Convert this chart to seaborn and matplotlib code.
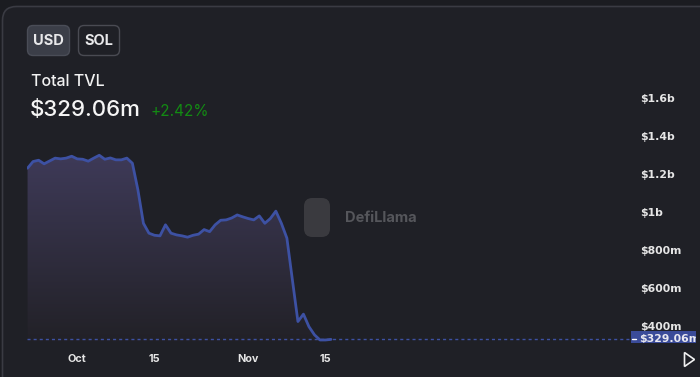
import numpy as np
import pandas as pd
import matplotlib
matplotlib.use("Agg")
import matplotlib.pyplot as plt
import matplotlib.dates as mdates
from matplotlib.patches import FancyBboxPatch, Rectangle, Polygon
import seaborn as sns

# ---- data (TVL in millions USD, daily) ----
start_date = "2023-09-22"
tvl_values = [1230, 1265, 1272, 1253, 1268, 1283, 1279, 1283, 1293, 1279,
              1277, 1267, 1283, 1298, 1277, 1284, 1274, 1274, 1283, 1256,
              1116, 940, 888, 877, 874, 932, 888, 879, 874, 867,
              877, 883, 907, 896, 932, 956, 958, 968, 984, 974,
              965, 958, 979, 940, 965, 1004, 940, 862, 642, 423,
              462, 396, 353, 326, 326, 329.06]
dates = pd.date_range(start_date, periods=len(tvl_values), freq="D")
df = pd.DataFrame({"date": dates, "tvl": tvl_values})

ytick_values = [400, 600, 800, 1000, 1200, 1400, 1600]
ytick_labels = ["$400m", "$600m", "$800m", "$1b", "$1.2b", "$1.4b", "$1.6b"]
xtick_dates = ["2023-10-01", "2023-10-15", "2023-11-01", "2023-11-15"]
xtick_labels = ["Oct", "15", "Nov", "15"]
current_label = "$329.06m"
change_label = "+2.42%"

W, H = 700, 377
OUT_BG = "#1b1c21"
CARD_BG = "#1f2026"
LINE = "#3d51a3"

sns.set_theme(style="dark")
plt.rcParams["font.family"] = ["Inter", "DejaVu Sans"]

fig = plt.figure(figsize=(W / 100, H / 100), dpi=100)
fig.patch.set_facecolor(OUT_BG)

def fx(x):
    return x / W

def fy(y):
    return 1 - y / H

# card
card = FancyBboxPatch((fx(2.5), fy(400)), fx(720), fy(6.5) - fy(400),
                      boxstyle="round,pad=0,rounding_size=0.02",
                      transform=fig.transFigure, facecolor=CARD_BG,
                      edgecolor="#3a3b43", linewidth=1.2, mutation_aspect=W / H,
                      zorder=-10)
fig.patches.append(card)

# buttons
usd = FancyBboxPatch((fx(27.5), fy(55.5)), fx(42), fy(25.5) - fy(55.5),
                     boxstyle="round,pad=0,rounding_size=0.008",
                     transform=fig.transFigure, facecolor="#3b3e48",
                     edgecolor="#4a4d57", linewidth=1, mutation_aspect=W / H)
sol = FancyBboxPatch((fx(78.5), fy(55.5)), fx(41), fy(25.5) - fy(55.5),
                     boxstyle="round,pad=0,rounding_size=0.008",
                     transform=fig.transFigure, facecolor=CARD_BG,
                     edgecolor="#4a4b53", linewidth=1, mutation_aspect=W / H)
fig.patches.extend([usd, sol])
fig.text(fx(48.5), fy(41), "USD", color="#e8e8ea", fontsize=10.5, fontweight="bold",
         ha="center", va="center")
fig.text(fx(99), fy(41), "SOL", color="#e8e8ea", fontsize=10.5, fontweight="bold",
         ha="center", va="center")

fig.text(fx(31), fy(82), "Total TVL", color="#f2f2f2", fontsize=11.5,
         fontweight="medium", ha="left", va="center")
fig.text(fx(30), fy(110), current_label, color="#f5f5f5", fontsize=16,
         fontweight="medium", ha="left", va="center")
fig.text(fx(151), fy(111.5), change_label, color="#138a13", fontsize=11,
         ha="left", va="center")

# watermark (behind the chart)
logo = FancyBboxPatch((fx(304), fy(237)), fx(26), fy(198) - fy(237),
                      boxstyle="round,pad=0,rounding_size=0.012",
                      transform=fig.transFigure, facecolor="#3e3e42",
                      edgecolor="none", mutation_aspect=W / H, alpha=0.9, zorder=-5)
fig.patches.append(logo)
fig.text(fx(345), fy(218), "DefiLlama", color="#55565b", fontsize=10.5,
         fontweight="bold", ha="left", va="center", zorder=-5)

# axes
ax = fig.add_axes([fx(27), fy(341.5), fx(630) - fx(27), fy(88) - fy(341.5)])
ax.set_facecolor("none")
ax.set_zorder(2)
ymin, ymax = 318, 1652
xmin = mdates.date2num(dates[0]) - 0.1
xmax = mdates.date2num(dates[0]) + (630 - 27.3) / 5.52

# gradient fill under the line
poly = ax.fill_between(df["date"], df["tvl"], ymin, color="none", lw=0)
grad = np.linspace(0, 1, 256).reshape(-1, 1)
top_c = np.array([62, 58, 88]) / 255
bot_c = np.array([34, 33, 39]) / 255
img = top_c * (1 - grad[..., None]) + bot_c * grad[..., None]
img = img.reshape(256, 1, 3)
im = ax.imshow(img, aspect="auto", extent=[xmin, xmax, ymin, max(tvl_values)],
               origin="upper", zorder=1)
path = poly.get_paths()[0]
im.set_clip_path(path, transform=ax.transData)

sns.lineplot(data=df, x="date", y="tvl", ax=ax, color=LINE, linewidth=2.0,
             zorder=3)

# dashed current value line
ax.axhline(tvl_values[-1], color=LINE, linestyle=(0, (2.2, 2.2)), linewidth=1.0,
           zorder=2)

ax.set_xlim(xmin, xmax)
ax.set_ylim(ymin, ymax)
ax.set_xlabel("")
ax.set_ylabel("")
for s in ax.spines.values():
    s.set_visible(False)
ax.grid(False)

ax.set_xticks([mdates.date2num(pd.Timestamp(d)) for d in xtick_dates])
ax.set_xticklabels(xtick_labels)
ax.tick_params(axis="x", length=0, pad=9, labelsize=7.8, labelcolor="#e6e6e6")
for t in ax.get_xticklabels():
    t.set_fontweight("bold")

ax.yaxis.tick_right()
ax.set_yticks(ytick_values)
ax.set_yticklabels(ytick_labels)
ax.tick_params(axis="y", length=0, pad=7, labelsize=7.8, labelcolor="#e6e6e6")
for t in ax.get_yticklabels():
    t.set_fontweight("bold")
    t.set_family(["DejaVu Sans"])

# current value badge on the right axis
badge = Rectangle((fx(631), fy(342.5)), fx(65), fy(331) - fy(342.5),
                  transform=fig.transFigure, facecolor="#3a4b99", edgecolor="none",
                  zorder=5)
fig.patches.append(badge)
fig.lines.append(plt.Line2D([fx(632), fx(636)], [fy(338.5), fy(338.5)],
                            transform=fig.transFigure, color="white", lw=1, zorder=6))
txt = fig.text(fx(639), fy(339.5), current_label, color="#e8e8f0", fontsize=7.8,
               fontweight="bold", ha="left", va="center", family=["DejaVu Sans"],
               zorder=6)
txt.set_clip_path(badge)

# play triangle
tri = Polygon([[fx(684.5), fy(352.5)], [fx(684.5), fy(366.5)], [fx(694.5), fy(359.5)]],
              closed=True, transform=fig.transFigure, facecolor="none",
              edgecolor="#f0f0f0", linewidth=1.2)
fig.patches.append(tri)

fig.savefig("out.png", dpi=100, facecolor=fig.get_facecolor())
